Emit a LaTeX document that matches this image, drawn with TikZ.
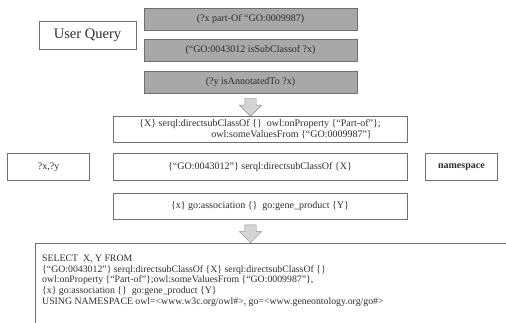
\documentclass[tikz,border=0pt]{standalone}
\usepackage{fontspec}
\setmainfont{Liberation Serif}
\usetikzlibrary{positioning,calc,shapes.arrows}
\definecolor{boxline}{HTML}{707070}
\definecolor{grayfill}{HTML}{A8A8A8}
\definecolor{arrowfill}{HTML}{D4D4D4}
\definecolor{ink}{HTML}{2E2E2E}
\tikzset{%
  qbox/.style={draw=boxline,fill=grayfill,align=center,minimum width=213pt,minimum height=22pt,inner sep=2pt},
  wbox/.style={draw=boxline,fill=white,align=center,minimum height=27pt,inner sep=3pt},
  bigarrow/.style={single arrow,draw=boxline!80,fill=arrowfill,rotate=-90,inner xsep=0pt,inner ysep=5.5pt,
    single arrow head extend=5.5pt,minimum height=18pt}%
}

\begin{document}
\begin{tikzpicture}[
    x=1pt, y=-1pt,
    font=\fontsize{10}{11}\selectfont,
    text=ink
]
\useasboundingbox (0,0) rectangle (506,322);
\clip (0,0) rectangle (506,322);

% User query in triple form
\node[wbox, minimum width=97pt, minimum height=28pt, font=\fontsize{14.5}{16}\selectfont] (query) at (87.5,35) {User Query};
\node[qbox] (tripA) at (250.5,19) {(?x part-Of “GO:0009987)};
\node[qbox, below=9pt of tripA] (tripB) {(“GO:0043012 isSubClassof ?x)};
\node[qbox, below=9pt of tripB] (tripC) {(?y isAnnotatedTo ?x)};

% Translated SeRQL path expressions
\node[wbox, minimum width=294pt, minimum height=26pt, align=left, inner ysep=1pt] (onprop) at (260,129)
  {\{X\} serql:directsubClassOf \{\}\ \ owl:onProperty \{“Part-of”\};\\
   \hspace*{72pt}owl:someValuesFrom \{“GO:0009987”\}};
\node[wbox, minimum width=294pt, below=11pt of onprop] (subcls) {\{“GO:0043012”\} serql:directsubClassOf \{X\}};
\node[wbox, minimum width=294pt, minimum height=26pt, below=12pt of subcls] (assoc) {\{x\} go:association \{\}\ \ go:gene\_product \{Y\}};
\node[wbox, minimum width=82pt, left=23pt of subcls] (vars) {?x,?y};
\node[wbox, minimum width=72pt, right=18pt of subcls, font=\fontsize{10}{11}\selectfont\bfseries] (nspace) {namespace};

% Final query (box runs past the right and bottom edges)
\node[anchor=north west, align=left, inner xsep=7pt, inner ysep=12pt,
      font=\fontsize{9.8}{10.6}\selectfont] (sql) at (35,243)
  {SELECT\ \ X, Y FROM\\
   \{“GO:0043012”\} serql:directsubClassOf \{X\} serql:directsubClassOf \{\}\\
   owl:onProperty \{“Part-of”\};owl:someValuesFrom \{“GO:0009987”\},\\
   \{x\} go:association \{\}\ \ go:gene\_product \{Y\}\\
   USING NAMESPACE owl=<www.w3c.org/owl\#>, go=<www.geneontology.org/go\#>};
\draw[boxline] ($(sql.north west)+(0,120)$) |- ($(sql.north west)+(490,0)$);

% Block arrows
\node[bigarrow] (stepA) at ($(tripC.south)!0.5!(tripC.south |- onprop.north)$) {};
\node[bigarrow] (stepB) at ($(tripC.south |- assoc.south)!0.5!(tripC.south |- sql.north)$) {};

\end{tikzpicture}
\end{document}
